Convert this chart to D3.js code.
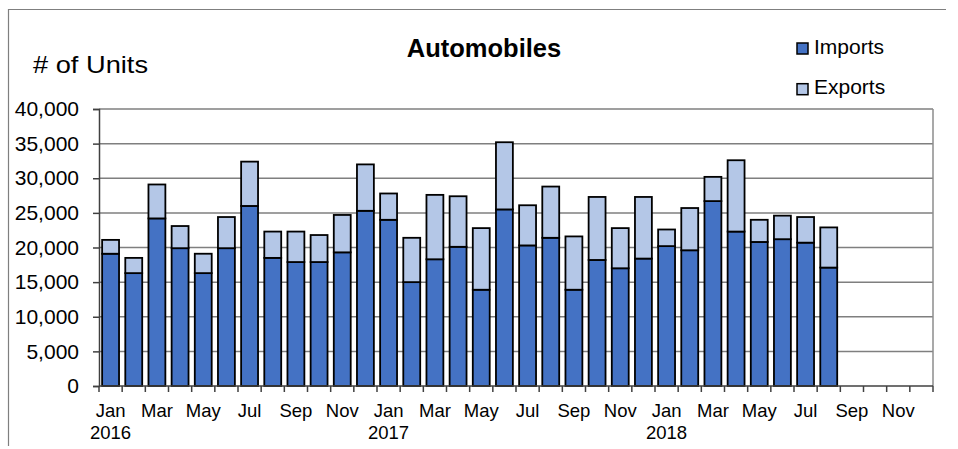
<!DOCTYPE html>
<html>
<head>
<meta charset="utf-8">
<script src="https://cdn.jsdelivr.net/npm/d3@7"></script>
<style>
html,body{margin:0;padding:0;background:#fff;}
svg{display:block;font-family:"Liberation Sans",Arial,sans-serif;}
</style>
</head>
<body>
<svg id="chart" width="958" height="449"></svg>
<script>
const months = ["Jan16","Feb16","Mar16","Apr16","May16","Jun16","Jul16","Aug16","Sep16","Oct16","Nov16","Dec16",
                "Jan17","Feb17","Mar17","Apr17","May17","Jun17","Jul17","Aug17","Sep17","Oct17","Nov17","Dec17",
                "Jan18","Feb18","Mar18","Apr18","May18","Jun18","Jul18","Aug18","Sep18","Oct18","Nov18","Dec18"];
const monthLabels = ["Jan","Feb","Mar","Apr","May","Jun","Jul","Aug","Sep","Oct","Nov","Dec"];
const years = ["2016","2017","2018"];
const imports = [19100,16300,24200,19900,16300,19900,26000,18500,17900,17900,19300,25300,
                 24000,15000,18300,20100,13900,25500,20300,21400,13900,18200,17000,18400,
                 20200,19600,26700,22300,20800,21200,20700,17100];
const exportsV = [2000,2200,4900,3200,2800,4500,6400,3800,4400,3900,5400,6700,
                  3800,6400,9300,7300,8900,9700,5800,7400,7700,9100,5800,8900,
                  2400,6100,3500,10300,3200,3400,3700,5800];
const yTicks = [0,5000,10000,15000,20000,25000,30000,35000,40000];
const seriesNames = ["Imports","Exports"];
const colors = ["#4472C4","#B4C7E7"];

const svg = d3.select("#chart");
const L = 99, R = 933, T = 109, B = 386;

// outer frame
svg.append("path").attr("d", "M8.5,446 L8.5,9.5 L946,9.5")
  .attr("fill","none").attr("stroke","#7f7f7f").attr("stroke-width",1.2);

const x = d3.scaleBand().domain(months).range([L, R]).paddingInner(0.27).paddingOuter(0.135);
const xb = d3.scaleBand().domain(months).range([L, R]);
const y = d3.scaleLinear().domain([0, 40000]).range([B, T]);

// gridlines
svg.append("g").selectAll("line").data(yTicks.slice(1)).join("line")
  .attr("x1", L).attr("x2", R).attr("y1", d => y(d)).attr("y2", d => y(d))
  .attr("stroke", "#7f7f7f").attr("stroke-width", 1.5);
// right border
svg.append("line").attr("x1", R).attr("x2", R).attr("y1", T).attr("y2", B)
  .attr("stroke", "#8c8c8c").attr("stroke-width", 1.5);

// stacked data
const rows = imports.map((v, i) => ({m: months[i], Imports: v, Exports: exportsV[i]}));
const stack = d3.stack().keys(seriesNames)(rows);

svg.append("g").selectAll("g").data(stack).join("g")
  .attr("fill", (d, i) => colors[i])
  .selectAll("rect").data(d => d).join("rect")
  .attr("x", d => x(d.data.m))
  .attr("width", x.bandwidth())
  .attr("y", d => y(d[1]))
  .attr("height", d => y(d[0]) - y(d[1]))
  .attr("stroke", "#000").attr("stroke-width", 1.8);

// y axis
const yAxis = d3.axisLeft(y).tickValues(yTicks).tickSize(6).tickPadding(14)
  .tickFormat(d3.format(","));
const ya = svg.append("g").attr("transform", `translate(${L},0)`).call(yAxis);
ya.select(".domain").attr("stroke", "#404040").attr("stroke-width", 1.5);
ya.selectAll(".tick line").attr("stroke", "#404040").attr("stroke-width", 1.5);
ya.selectAll(".tick text").attr("font-size", 21).attr("fill", "#000")
  .attr("font-family", "Liberation Sans, Arial, sans-serif");

// x axis: line + ticks at band boundaries
const xa = svg.append("g");
xa.append("line").attr("x1", L).attr("x2", R).attr("y1", B).attr("y2", B)
  .attr("stroke", "#404040").attr("stroke-width", 1.5);
const bounds = months.map(m => xb(m)).concat([R]);
xa.selectAll("line.t").data(bounds).join("line").attr("class","t")
  .attr("x1", d => d).attr("x2", d => d).attr("y1", B).attr("y2", B + 6)
  .attr("stroke", "#404040").attr("stroke-width", 1.5);
xa.selectAll("text.m").data(months.filter((m, i) => i % 2 === 0)).join("text").attr("class","m")
  .attr("x", d => xb(d) + xb.bandwidth() / 2).attr("y", 417)
  .attr("text-anchor", "middle").attr("font-size", 18.5).attr("fill", "#000")
  .text(d => monthLabels[months.indexOf(d) % 12]);
xa.selectAll("text.yr").data(years).join("text").attr("class","yr")
  .attr("x", (d, i) => xb(months[i * 12]) + xb.bandwidth() / 2).attr("y", 439)
  .attr("text-anchor", "middle").attr("font-size", 18.5).attr("fill", "#000")
  .text(d => d);

// title
svg.append("text").attr("x", 484).attr("y", 57).attr("text-anchor", "middle")
  .attr("font-size", 25.5).attr("font-weight", "bold").text("Automobiles");
// y label
svg.append("text").attr("x", 33).attr("y", 73).attr("font-size", 24)
  .attr("textLength", 115).attr("lengthAdjust", "spacingAndGlyphs").text("# of Units");

// legend
const lg = svg.append("g").selectAll("g").data(seriesNames).join("g")
  .attr("transform", (d, i) => `translate(797,${43 + i * 40.7})`);
lg.append("rect").attr("width", 11).attr("height", 11)
  .attr("fill", (d, i) => colors[i]).attr("stroke", "#000").attr("stroke-width", 1.5);
lg.append("text").attr("x", 17).attr("y", 10.5).attr("font-size", 21).text(d => d);
</script>
</body>
</html>
